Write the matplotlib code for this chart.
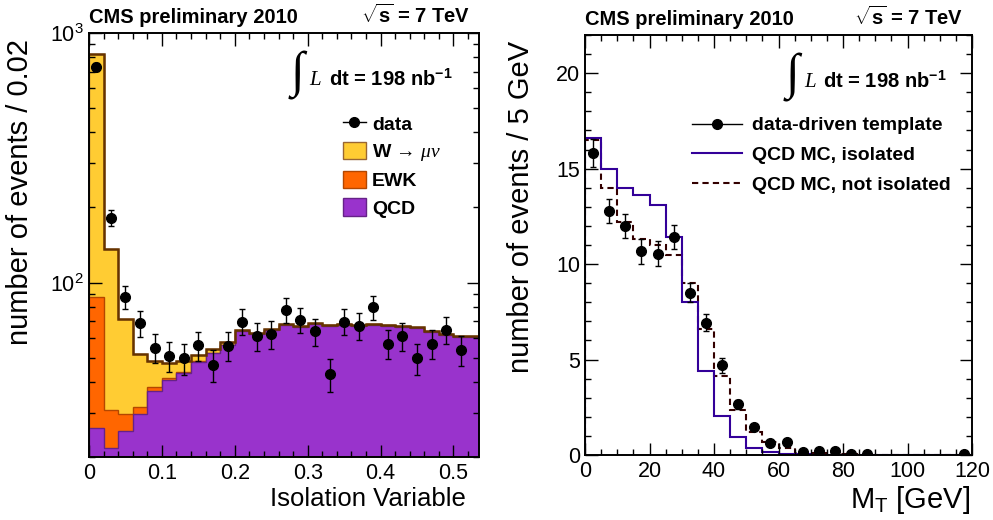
import numpy as np
import matplotlib
matplotlib.use("Agg")
import matplotlib.pyplot as plt
from matplotlib.ticker import MultipleLocator, LogLocator, FuncFormatter, NullFormatter
from matplotlib.lines import Line2D
from matplotlib.patches import Patch

plt.rcParams['font.family'] = ['Liberation Sans', 'DejaVu Sans']
plt.rcParams['mathtext.fontset'] = 'custom'
plt.rcParams['mathtext.rm'] = 'Liberation Sans'
plt.rcParams['mathtext.it'] = 'Liberation Serif:italic'
plt.rcParams['mathtext.bf'] = 'Liberation Sans:bold'
plt.rcParams['axes.linewidth'] = 1.4

# left: isolation variable, bins of 0.02
iso_edges = np.round(np.arange(28) * 0.02, 2)
iso_qcd = [26.1, 21.8, 25.5, 29.7, 36.8, 40.8, 43.6, 48.0, 52.0, 56.0, 63.7, 62.2, 64.5,
           67.6, 66.6, 68.2, 67.2, 67.9, 66.8, 67.9, 67.2, 66.6, 65.7, 63.2, 61.9, 60.3, 60.3]
iso_ewk = [61.8, 9.1, 4.2, 2.1, 1.2, 0.6, 0.4, 0.3, 0.3, 0.3, 0.3, 0.2, 0.2,
           0.2, 0.2, 0.2, 0.2, 0.2, 0.2, 0.2, 0.2, 0.2, 0.2, 0.2, 0.2, 0.2, 0.2]
iso_wmunu = [734, 106, 41.6, 19.8, 10.3, 6.2, 4.3, 3.0, 2.0, 1.4, 0.3, 0.3, 0.3,
             0.3, 0.3, 0.3, 0.3, 0.3, 0.3, 0.3, 0.3, 0.3, 0.3, 0.3, 0.3, 0.3, 0.3]
iso_data = [730, 182, 87.7, 68.7, 54.9, 50.8, 49.8, 56.0, 46.8, 55.8, 69.8, 60.8, 62.1,
            77.8, 71.0, 63.7, 42.9, 69.8, 67.1, 79.7, 56.9, 60.8, 49.8, 56.9, 64.7, 53.7]

# right: transverse mass, bins of 5 GeV
mt_edges = np.arange(0, 125, 5)
mt_iso = [16.6, 15.0, 14.0, 13.6, 13.1, 11.4, 8.0, 4.4, 2.05, 0.92, 0.35, 0.14,
          0.05, 0.03, 0.02, 0.01, 0.01, 0, 0, 0, 0, 0, 0, 0]
mt_noniso = [16.5, 14.0, 12.2, 11.3, 11.0, 10.5, 9.0, 6.6, 4.15, 2.35, 1.2, 0.67,
             0.35, 0.12, 0.08, 0.04, 0.03, 0.02, 0.01, 0.01, 0, 0, 0, 0]
mt_data = [15.83, 12.78, 11.99, 10.67, 10.55, 11.42, 8.51, 6.94, 4.71, 2.65, 1.45, 0.65,
           0.70, 0.17, 0.2, 0.2, 0.04, 0.07, np.nan, np.nan, np.nan, np.nan, np.nan, 0.03]
mt_err = [0.72, 0.65, 0.64, 0.65, 0.64, 0.61, 0.52, 0.47, 0.39, 0.24, 0.12, 0.06,
          0.06, 0, 0, 0, 0, 0, 0, 0, 0, 0, 0, 0]

C_W, C_EWK, C_QCD = '#FFCC33', '#FF6600', '#9933CC'

fig = plt.figure(figsize=(9.93, 5.2), dpi=100)
ax1 = fig.add_axes([89 / 993, 63 / 520, 390 / 993, 424 / 520])
ax2 = fig.add_axes([585 / 993, 65 / 520, 387 / 993, 420 / 520])

# ---- left panel: stacked histogram
qcd = np.array(iso_qcd)
ewk = qcd + np.array(iso_ewk)
tot = ewk + np.array(iso_wmunu)
ax1.stairs(tot, iso_edges, baseline=1, fill=True, facecolor=C_W, edgecolor='#996633', lw=1)
ax1.stairs(ewk, iso_edges, baseline=1, fill=True, facecolor=C_EWK, edgecolor='#B34700', lw=1)
ax1.stairs(qcd, iso_edges, baseline=1, fill=True, facecolor=C_QCD, edgecolor='#662288', lw=1)
ax1.stairs(tot, iso_edges, baseline=None, color='#663300', lw=1.8)

centers = (iso_edges[:-1] + iso_edges[1:]) / 2
d = np.array(iso_data)
ax1.errorbar(centers[:len(d)], d, yerr=np.sqrt(d), fmt='o', color='black', ms=7,
             elinewidth=1, capsize=2.5, capthick=1)

ax1.set_yscale('log')
ax1.set_xlim(0, 0.535)
ax1.set_ylim(20, 1000)
ax1.xaxis.set_major_locator(MultipleLocator(0.1))
ax1.xaxis.set_minor_locator(MultipleLocator(0.02))
ax1.xaxis.set_major_formatter(FuncFormatter(lambda v, p: f"{v:g}"))
ax1.yaxis.set_major_locator(LogLocator(base=10))
ax1.yaxis.set_minor_locator(LogLocator(base=10, subs=np.arange(2, 10)))
ax1.yaxis.set_minor_formatter(NullFormatter())

ax1.legend(handles=[Line2D([], [], color='black', marker='o', ms=7, lw=1),
                    Patch(facecolor=C_W, edgecolor='#996633'),
                    Patch(facecolor=C_EWK, edgecolor='#B34700'),
                    Patch(facecolor=C_QCD, edgecolor='#662288')],
           labels=['data', 'W \u2192 $\\mu\\nu$', 'EWK', 'QCD'],
           loc='upper left', bbox_to_anchor=(333 / 993, 1 - 105 / 520),
           bbox_transform=fig.transFigure, frameon=False, borderpad=0,
           prop={'weight': 'bold', 'size': 14}, handlelength=1.2,
           handleheight=1.0, handletextpad=0.3, labelspacing=0.4)

ax1.set_xlabel('Isolation Variable', fontsize=18.5, loc='right')
ax1.set_ylabel('number of events / 0.02', fontsize=21, loc='top')
ax1.xaxis.set_label_coords(0.967, -0.07)
ax1.yaxis.set_label_coords(-0.14, 0.985)

# ---- right panel: mT templates
ax2.stairs(mt_noniso, mt_edges, color='#330000', lw=1.5, ls=(0, (3, 2)))
ax2.stairs(mt_iso, mt_edges, color='#330099', lw=1.5)
mc = (mt_edges[:-1] + mt_edges[1:]) / 2
ax2.errorbar(mc, mt_data, yerr=mt_err, fmt='o', color='black', ms=7,
             elinewidth=1, capsize=2.5, capthick=1)
ax2.set_xlim(0, 120)
ax2.set_ylim(0, 22)
ax2.xaxis.set_major_locator(MultipleLocator(20))
ax2.xaxis.set_minor_locator(MultipleLocator(5))
ax2.yaxis.set_major_locator(MultipleLocator(5))
ax2.yaxis.set_minor_locator(MultipleLocator(1))

ax2.legend(handles=[Line2D([], [], color='black', marker='o', ms=7, lw=1),
                    Line2D([], [], color='#330099', lw=1.5),
                    Line2D([], [], color='#330000', lw=1.5, ls=(0, (3, 2)))],
           labels=['data-driven template', 'QCD MC, isolated', 'QCD MC, not isolated'],
           loc='upper left', bbox_to_anchor=(682 / 993, 1 - 107 / 520),
           bbox_transform=fig.transFigure, frameon=False, borderpad=0,
           prop={'weight': 'bold', 'size': 14}, handlelength=2.6,
           handletextpad=0.5, labelspacing=0.62)

ax2.set_xlabel(r'M$_\mathrm{T}$ [GeV]', fontsize=21, loc='right')
ax2.set_ylabel('number of events / 5 GeV', fontsize=21, loc='top')
ax2.xaxis.set_label_coords(0.995, -0.068)
ax2.yaxis.set_label_coords(-0.13, 0.985)

for ax in (ax1, ax2):
    ax.tick_params(which='both', direction='in', top=True, right=True,
                   labelsize=15.5, colors='black')
    ax.tick_params(which='major', length=9, width=1)
    ax.tick_params(which='minor', length=4.5, width=1)
    ax.tick_params(axis='x', pad=4)
    ax.text(0, 1.015, 'CMS preliminary 2010', transform=ax.transAxes,
            fontsize=14.5, fontweight='bold', ha='left', va='bottom')
    ax.text(0.977, 1.015, r'$\sqrt{\mathbf{s}}$ = 7 TeV', transform=ax.transAxes,
            fontsize=14.5, fontweight='bold', ha='right', va='bottom')
    ax.text(0.535, 0.90, '\u222b', transform=ax.transAxes, fontsize=36,
            family=['Liberation Serif', 'DejaVu Serif'], ha='center', va='center')
    ax.text(0.565, 0.89, r'$L$', transform=ax.transAxes, fontsize=15,
            ha='left', va='center')
    ax.text(0.615, 0.89, r'dt = 198 nb$^{\mathbf{-1}}$', transform=ax.transAxes,
            fontsize=14.5, fontweight='bold', ha='left', va='center')

fig.savefig('out.png', dpi=100)
